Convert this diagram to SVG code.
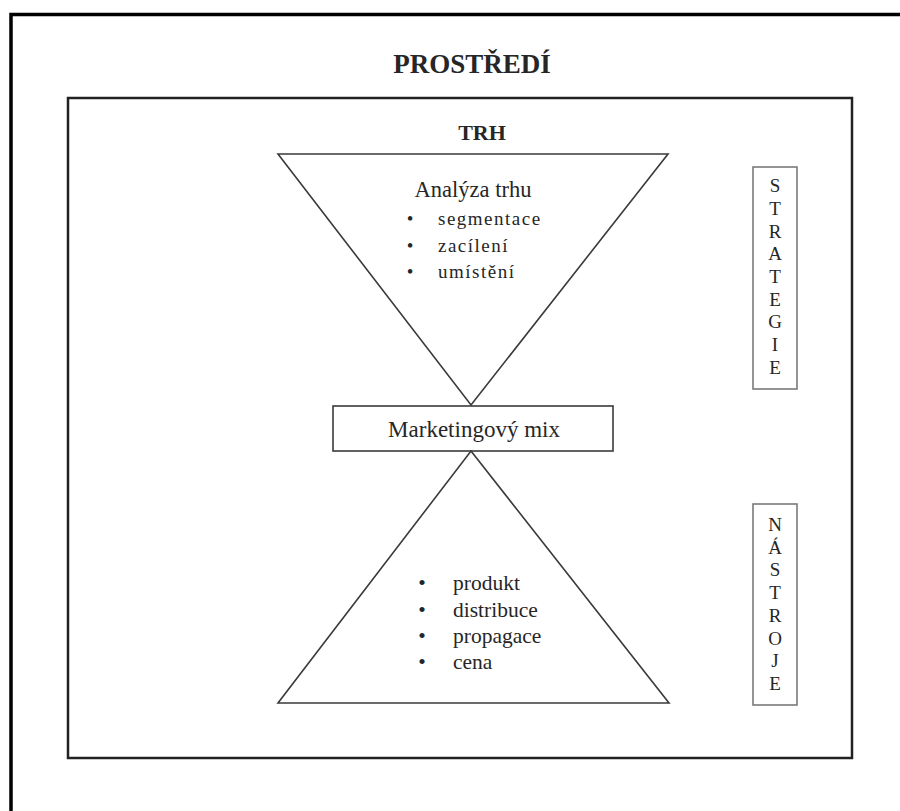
<svg xmlns="http://www.w3.org/2000/svg" width="900" height="811" viewBox="0 0 900 811">
<style>
.t{font-family:"Liberation Serif","Times New Roman",serif;fill:#262626}
.b{font-weight:bold}
.ln{fill:none;stroke:#3a3a3a;stroke-width:1.6}
.side{fill:none;stroke:#7a7a7a;stroke-width:1.6}
.bul{text-anchor:middle}
</style>
<rect width="900" height="811" fill="#fff"/>
<g id="environment">
<path d="M11 811 V14.5 H900" fill="none" stroke="#000" stroke-width="3.5"/>
<text class="t b" x="472" y="73" font-size="27" text-anchor="middle">PROSTŘEDÍ</text>
</g>
<g id="market">
<rect x="68" y="98" width="784" height="660" fill="none" stroke="#222" stroke-width="2.5"/>
<text class="t b" x="482" y="140" font-size="22" text-anchor="middle">TRH</text>
</g>
<g id="analysis">
<polygon class="ln" points="278,154 668,154 471,405"/>
<text class="t" x="473" y="197" font-size="22.5" text-anchor="middle">Analýza trhu</text>
<g class="t" font-size="19">
<text class="bul" x="410" y="225">•</text><text x="438" y="225" letter-spacing="1.5">segmentace</text>
<text class="bul" x="410" y="252">•</text><text x="438" y="252" letter-spacing="1.5">zacílení</text>
<text class="bul" x="410" y="278">•</text><text x="438" y="278" letter-spacing="1.5">umístění</text>
</g>
</g>
<g id="mix">
<rect class="ln" x="333" y="406" width="280" height="45" fill="#fff"/>
<text class="t" x="474" y="437" font-size="23" text-anchor="middle">Marketingový mix</text>
</g>
<g id="tools">
<polygon class="ln" points="471,451 669,703 278,703"/>
<g class="t" font-size="21.5">
<text class="bul" x="422" y="590">•</text><text x="453" y="590">produkt</text>
<text class="bul" x="422" y="617">•</text><text x="453" y="617">distribuce</text>
<text class="bul" x="422" y="643">•</text><text x="453" y="643">propagace</text>
<text class="bul" x="422" y="669">•</text><text x="453" y="669">cena</text>
</g>
</g>
<g id="strategy">
<rect class="side" x="753" y="167" width="44" height="222"/>
<g class="t" font-size="19" text-anchor="middle">
<text x="775" y="192">S</text><text x="775" y="215">T</text><text x="775" y="238">R</text>
<text x="775" y="260">A</text><text x="775" y="283">T</text><text x="775" y="306">E</text>
<text x="775" y="328">G</text><text x="775" y="351">I</text><text x="775" y="374">E</text>
</g>
</g>
<g id="instruments">
<rect class="side" x="753" y="504" width="44" height="201"/>
<g class="t" font-size="19" text-anchor="middle">
<text x="775" y="531">N</text><text x="775" y="554">Á</text><text x="775" y="576">S</text>
<text x="775" y="599">T</text><text x="775" y="622">R</text><text x="775" y="645">O</text>
<text x="775" y="667">J</text><text x="775" y="690">E</text>
</g>
</g>
<g id="connectors"></g>
</svg>
